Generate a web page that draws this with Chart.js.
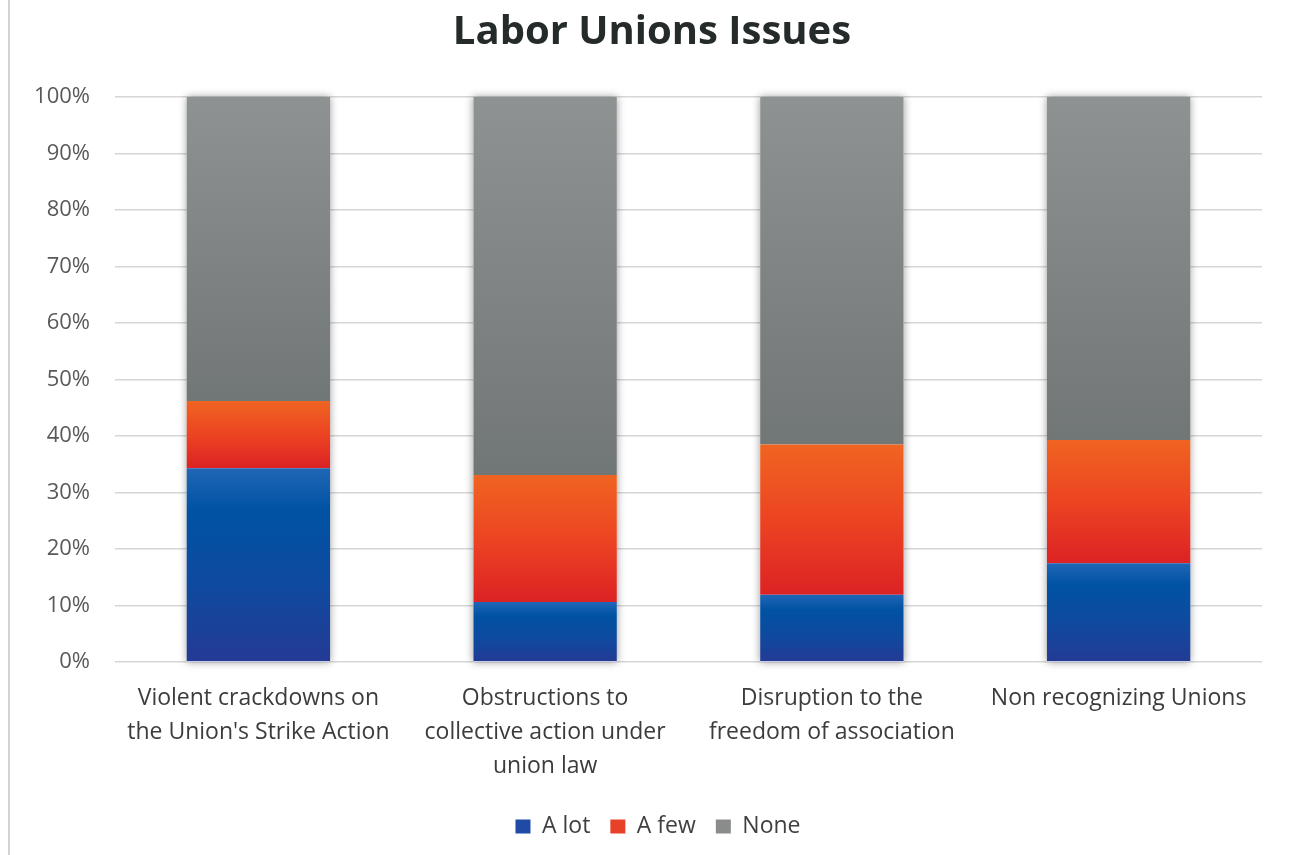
<!DOCTYPE html>
<html>
<head>
<meta charset="utf-8">
<title>Labor Unions Issues</title>
<script src="https://cdn.jsdelivr.net/npm/chart.js@4/dist/chart.umd.min.js"></script>
<style>
  html, body { margin: 0; padding: 0; background: #ffffff; }
  #wrap { width: 1292px; height: 855px; position: relative; }
</style>
</head>
<body>
<div id="wrap"><canvas id="chart" width="1292" height="855"></canvas></div>
<script>
// Categories (multi-line axis labels)
const categories = [
  ["Violent crackdowns on", "the Union's Strike Action"],
  ["Obstructions to", "collective action under", "union law"],
  ["Disruption to the", "freedom of association"],
  "Non recognizing Unions"
];

// Share of responses per category, in percent
const aLot  = [34.3, 10.6, 11.9, 17.5];
const aFew  = [11.9, 22.5, 26.6, 21.8];
const none  = [53.8, 66.9, 61.5, 60.7];

const seriesNames = ["A lot", "A few", "None"];

// Y axis range and tick step (percent)
const yMin = 0;
const yMax = 100;
const yStep = 10;

// Vertical gradient stops for each series (top -> bottom of a segment)
const gradientStops = [
  [[0, "#2166b6"], [0.22, "#0052a3"], [0.6, "#0e4a9f"], [1, "#243a94"]],
  [[0, "#f06421"], [0.5, "#ec4422"], [1, "#dc2224"]],
  [[0, "#8f9292"], [1, "#717676"]]
];
const legendColors = ["#1f4aa6", "#e8412a", "#8a8c8c"];

const FONT = "'Open Sans', 'Liberation Sans', sans-serif";
const seriesData = [aLot, aFew, none];

function segmentGradient(ctx, dsIndex) {
  const chart = ctx.chart;
  if (!chart.chartArea || ctx.type !== "data") return legendColors[dsIndex];
  const i = ctx.dataIndex;
  let start = 0;
  for (let d = 0; d < dsIndex; d++) start += seriesData[d][i];
  const end = start + seriesData[dsIndex][i];
  const y = chart.scales.y;
  const top = y.getPixelForValue(end);
  const bottom = y.getPixelForValue(start);
  if (!isFinite(top) || !isFinite(bottom) || top === bottom) return legendColors[dsIndex];
  const g = chart.ctx.createLinearGradient(0, top, 0, bottom);
  gradientStops[dsIndex].forEach(([p, c]) => g.addColorStop(p, c));
  return g;
}

// White page, outer frame edge and a soft shadow behind every stacked column
const framePlugin = {
  id: "frame",
  afterLayout(chart) {
    // centre title and legend on the page rather than on the plot box
    if (chart.titleBlock) { chart.titleBlock.left += 21; chart.titleBlock.right += 21; }
    if (chart.legend) { chart.legend.left += 27; chart.legend.right += 27; }
  },
  beforeDraw(chart) {
    const c = chart.ctx;
    c.save();
    c.fillStyle = "#ffffff";
    c.fillRect(0, 0, chart.width, chart.height);
    c.fillStyle = "#d3d3d3";
    c.fillRect(8, 0, 2, chart.height);
    c.restore();
  },
  beforeDatasetsDraw(chart) {
    const c = chart.ctx;
    const y = chart.scales.y;
    const meta = chart.getDatasetMeta(0);
    c.save();
    c.shadowColor = "rgba(0,0,0,0.4)";
    c.shadowBlur = 8;
    c.fillStyle = "#ffffff";
    meta.data.forEach((bar, i) => {
      let total = 0;
      seriesData.forEach(s => { total += s[i]; });
      const top = y.getPixelForValue(total);
      const bottom = y.getPixelForValue(0);
      c.fillRect(bar.x - bar.width / 2, top, bar.width, bottom - top);
    });
    c.restore();
  }
};

new Chart(document.getElementById("chart"), {
  type: "bar",
  data: {
    labels: categories,
    datasets: seriesNames.map((name, d) => ({
      label: name,
      data: seriesData[d],
      backgroundColor: ctx => segmentGradient(ctx, d),
      borderWidth: 0,
      barPercentage: 0.5,
      categoryPercentage: 1.0
    }))
  },
  options: {
    responsive: false,
    animation: false,
    devicePixelRatio: 1,
    layout: { padding: { left: 0, right: 30, top: 0, bottom: 7 } },
    plugins: {
      title: {
        display: true,
        text: "Labor Unions Issues",
        color: "#252a2a",
        font: { family: FONT, size: 40, weight: "bold", lineHeight: 1.2 },
        padding: { top: 9, bottom: 40 }
      },
      legend: {
        position: "bottom",
        labels: {
          color: "#404040",
          font: { family: FONT, size: 23 },
          boxWidth: 15,
          boxHeight: 14,
          padding: 20,
          generateLabels(chart) {
            const items = Chart.defaults.plugins.legend.labels.generateLabels(chart);
            items.forEach((it, k) => {
              it.fillStyle = legendColors[k];
              it.strokeStyle = legendColors[k];
              it.lineWidth = 0;
            });
            return items;
          }
        }
      },
      tooltip: { enabled: false }
    },
    scales: {
      x: {
        stacked: true,
        grid: { display: false, drawTicks: false },
        border: { display: false },
        ticks: {
          color: "#3c3c3c",
          font: { family: FONT, size: 23, lineHeight: "34px" },
          padding: 19,
          maxRotation: 0,
          autoSkip: false
        },
        afterFit(scale) { scale.height = 133; }
      },
      y: {
        stacked: true,
        min: yMin,
        max: yMax,
        grid: { color: "#d6d6d6", lineWidth: 1.5, drawTicks: false },
        border: { display: false },
        ticks: {
          stepSize: yStep,
          color: "#595959",
          font: { family: FONT, size: 22 },
          padding: 25,
          callback: v => v + "%"
        },
        afterFit(scale) { scale.width = 115; }
      }
    }
  },
  plugins: [framePlugin]
});
</script>
</body>
</html>
